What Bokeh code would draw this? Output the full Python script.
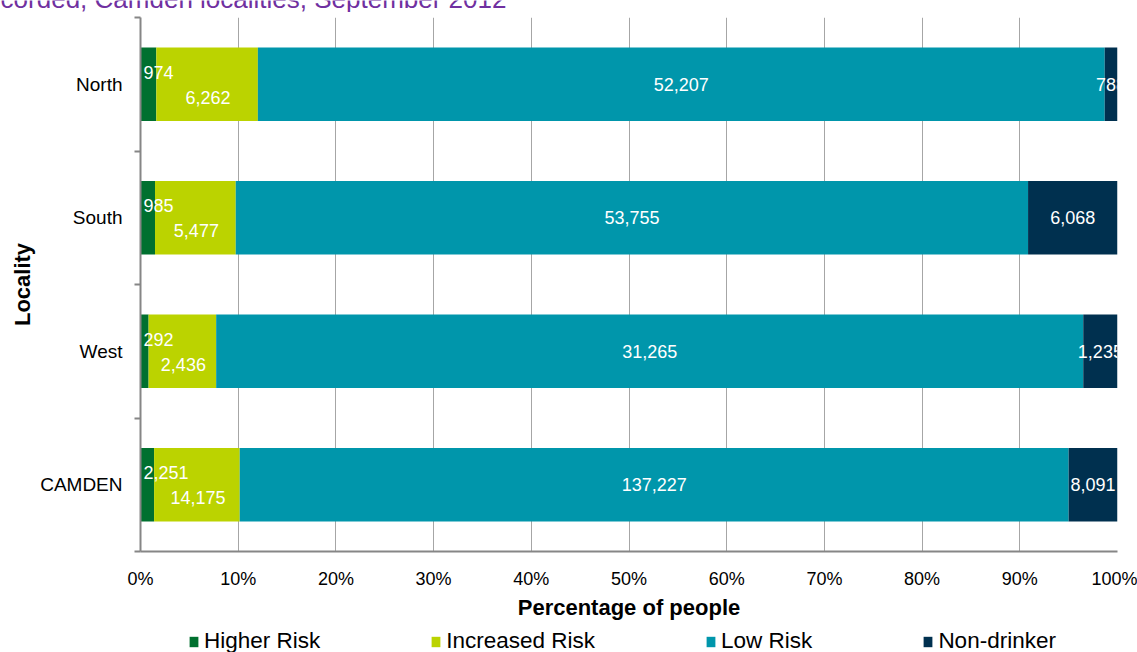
from bokeh.plotting import figure
from bokeh.layouts import column
from bokeh.models import (ColumnDataSource, Range1d, FixedTicker, NumeralTickFormatter,
                          Legend, LegendItem)
from bokeh.core.properties import value
from bokeh.embed import file_html
from bokeh.resources import INLINE

# ---- data (top to bottom) ----
localities = ["North", "South", "West", "CAMDEN"]
higher_risk = [974, 985, 292, 2251]
increased_risk = [6262, 5477, 2436, 14175]
low_risk = [52207, 53755, 31265, 137227]
non_drinker = [788, 6068, 1235, 8091]
series_names = ["Higher Risk", "Increased Risk", "Low Risk", "Non-drinker"]
series_colors = ["#00702f", "#bbd300", "#0096ab", "#00304f"]
x_ticks = [0.0, 0.1, 0.2, 0.3, 0.4, 0.5, 0.6, 0.7, 0.8, 0.9, 1.0]
title_text = "recorded, Camden localities, September 2012"

FONT = "Liberation Sans"
W = 1137
n = len(localities)
ypos = [n - 1 - i for i in range(n)]
series = [higher_risk, increased_risk, low_risk, non_drinker]
keys = ["higher", "increased", "low", "nondrinker"]

totals = [sum(s[i] for s in series) for i in range(n)]
data = {"y": ypos}
for k, s in zip(keys, series):
    data[k] = [s[i] / totals[i] for i in range(n)]
src = ColumnDataSource(data)

# ---- strip with the (cut-off) title ----
t = figure(width=W, height=12, x_range=Range1d(0, W), y_range=Range1d(0, 12),
           output_backend="svg", toolbar_location=None, title=None,
           x_axis_type=None, y_axis_type=None, min_border=0, frame_align=False)
t.outline_line_color = None
t.grid.visible = False
t.text(x=[-23], y=[14], text=[title_text], text_font=value(FONT), text_font_size="26px",
       text_color="#7030a0", text_baseline="alphabetic", text_align="left")

# ---- main chart ----
p = figure(width=W, height=610, x_range=Range1d(0, 1), y_range=Range1d(-0.5, n - 0.5),
           output_backend="svg", toolbar_location=None, title=None,
           min_border_left=140, min_border_right=20, min_border_top=5, min_border_bottom=69)
p.outline_line_color = None
p.background_fill_color = "white"

renderers = p.hbar_stack(keys, y="y", height=0.55, color=series_colors, line_color=None, source=src)

for si, (k, s) in enumerate(zip(keys, series)):
    starts, mids, texts = [], [], []
    for i in range(n):
        start = sum(data[keys[j]][i] for j in range(si))
        w = data[k][i]
        starts.append(start)
        mids.append(start + w / 2)
        texts.append(f"{s[i]:,}")
    if si == 0:
        ls = ColumnDataSource(dict(x=starts, y=ypos, t=texts))
        p.text(x="x", y="y", text="t", source=ls, text_align="left", text_baseline="middle",
               x_offset=3, y_offset=-12, text_color="white", text_font=value(FONT),
               text_font_size="18px")
    elif si == 1:
        ls = ColumnDataSource(dict(x=mids, y=ypos, t=texts))
        p.text(x="x", y="y", text="t", source=ls, text_align="center", text_baseline="middle",
               x_offset=1, y_offset=13, text_color="white", text_font=value(FONT),
               text_font_size="18px")
    else:
        ls = ColumnDataSource(dict(x=mids, y=ypos, t=texts))
        p.text(x="x", y="y", text="t", source=ls, text_align="center", text_baseline="middle",
               text_color="white", text_font=value(FONT), text_font_size="18px")

ax = p.xaxis[0]
ax.ticker = FixedTicker(ticks=x_ticks)
ax.formatter = NumeralTickFormatter(format="0%")
ax.axis_label = "Percentage of people"
ax.axis_label_text_font = FONT
ax.axis_label_text_font_style = "bold"
ax.axis_label_text_font_size = "22px"
ax.axis_label_text_color = "black"
ax.axis_label_standoff = 3
ax.major_label_text_font = FONT
ax.major_label_text_font_size = "18px"
ax.major_label_text_color = "black"
ax.major_label_standoff = 17
ax.major_tick_line_color = None
ax.major_tick_out = 0
ax.major_tick_in = 0
ax.minor_tick_line_color = None
ax.axis_line_color = "#868686"
ax.axis_line_width = 2

ay = p.yaxis[0]
ay.ticker = FixedTicker(ticks=ypos, minor_ticks=[y - 0.5 for y in range(n + 1)])
ay.major_label_overrides = {ypos[i]: localities[i] for i in range(n)}
ay.axis_label = "Locality"
ay.axis_label_text_font = FONT
ay.axis_label_text_font_style = "bold"
ay.axis_label_text_font_size = "22px"
ay.axis_label_text_color = "black"
ay.axis_label_standoff = 2
ay.major_label_text_font = FONT
ay.major_label_text_font_size = "19px"
ay.major_label_text_color = "black"
ay.major_label_standoff = 12
ay.major_tick_line_color = None
ay.major_tick_out = 0
ay.major_tick_in = 0
ay.minor_tick_line_color = "#868686"
ay.minor_tick_line_width = 2
ay.minor_tick_out = 6
ay.minor_tick_in = 0
ay.axis_line_color = "#868686"
ay.axis_line_width = 2

p.ygrid.visible = False
p.xgrid.ticker = FixedTicker(ticks=x_ticks)
p.xgrid.grid_line_color = "#a6a6a6"
p.xgrid.grid_line_width = 1

# ---- legend strip ----
lg = figure(width=W, height=30, x_range=Range1d(0, 1), y_range=Range1d(0, 1),
            output_backend="svg", toolbar_location=None, title=None,
            x_axis_type=None, y_axis_type=None, min_border=0, frame_align=False)
lg.outline_line_color = None
lg.grid.visible = False
dummies = [lg.hbar(y=[-50], left=[0], right=[0], height=0.5, color=c, line_color=None)
           for c in series_colors]
legend = Legend(items=[LegendItem(label=nm, renderers=[r]) for nm, r in zip(series_names, dummies)],
                orientation="horizontal", location=(188, -2), padding=0, margin=0, spacing=110,
                label_standoff=5, glyph_width=11, glyph_height=13, label_height=20,
                label_text_font=FONT, label_text_font_size="22.5px", label_text_color="black",
                border_line_color=None, background_fill_alpha=0)
lg.add_layout(legend)

layout = column(t, p, lg, spacing=0)
open("out.html", "w").write(file_html(layout, INLINE))
